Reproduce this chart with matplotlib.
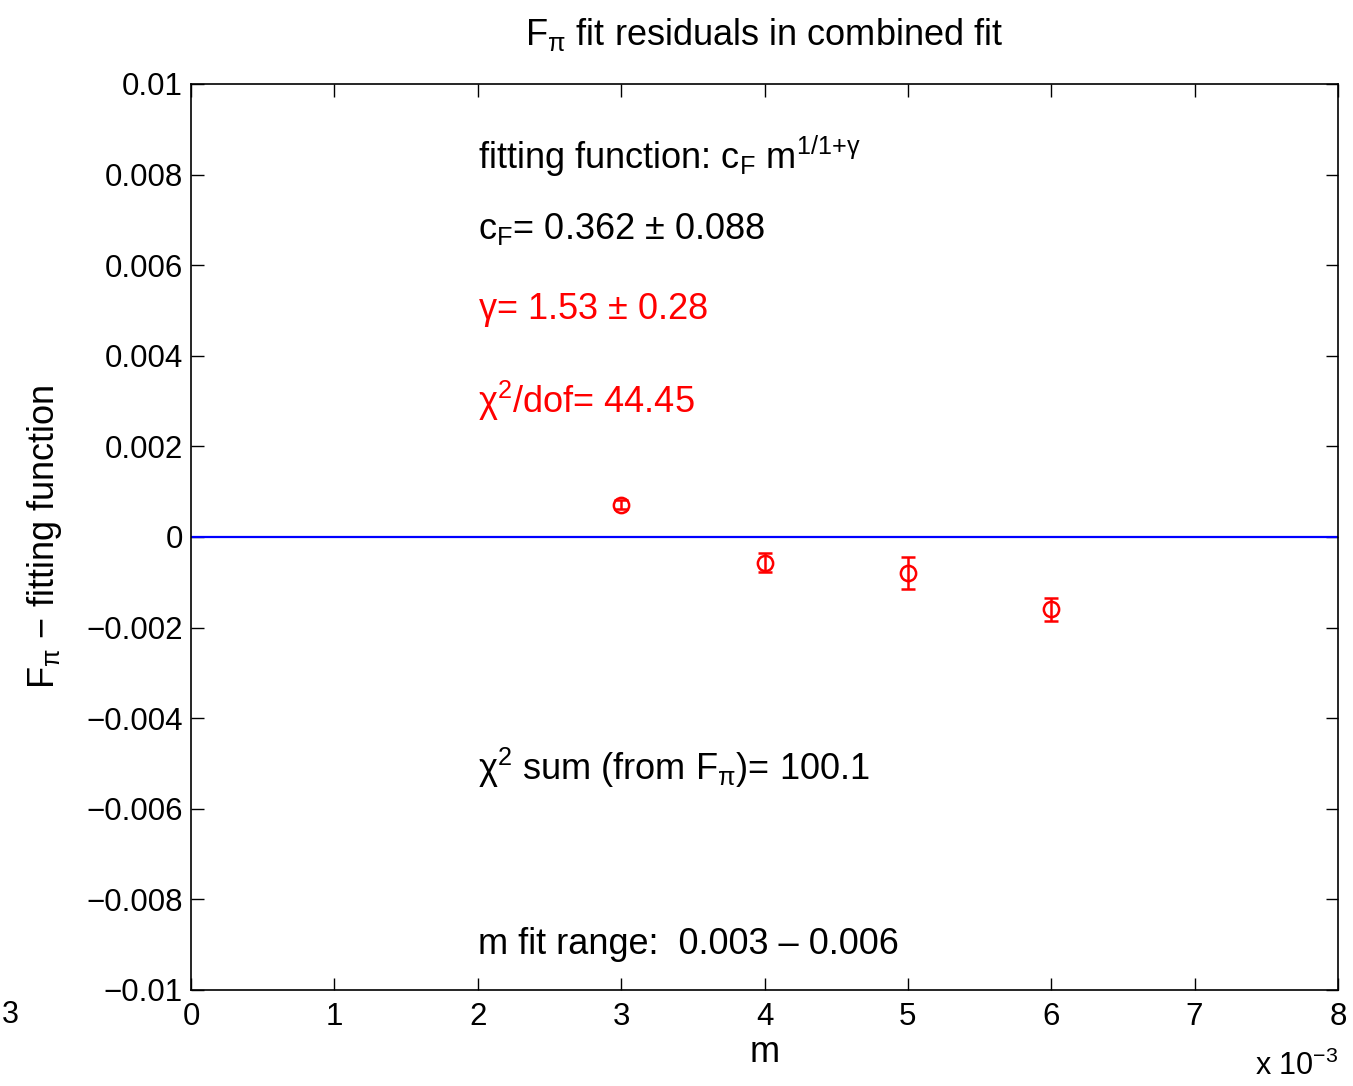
import matplotlib
matplotlib.use("Agg")
import matplotlib.pyplot as plt

# Residuen van de F_pi fit (data - fitfunctie)
m_waarden = [0.003, 0.004, 0.005, 0.006]
residu = [0.00071, -0.00057, -0.00080, -0.00160]
residu_fout = [0.00010, 0.00021, 0.00035, 0.00025]

x_ticks = [0, 0.001, 0.002, 0.003, 0.004, 0.005, 0.006, 0.007, 0.008]
x_ticklabels = ['0', '1', '2', '3', '4', '5', '6', '7', '8']
y_ticks = [-0.01, -0.008, -0.006, -0.004, -0.002, 0, 0.002, 0.004, 0.006, 0.008, 0.01]
y_ticklabels = ['\u22120.01', '\u22120.008', '\u22120.006', '\u22120.004', '\u22120.002', '0',
                '0.002', '0.004', '0.006', '0.008', '0.01']

plt.rcParams['font.family'] = ['Liberation Sans', 'DejaVu Sans']
plt.rcParams['mathtext.fontset'] = 'custom'
plt.rcParams['mathtext.rm'] = 'Liberation Sans'
plt.rcParams['mathtext.it'] = 'Liberation Sans'
plt.rcParams['mathtext.default'] = 'rm'

fig = plt.figure(figsize=(13.53, 10.86), dpi=100)
ax = fig.add_axes([0.1412, 0.0884, 0.8477, 0.8343])

ax.axhline(0, color='blue', linewidth=1.6)
ax.errorbar(m_waarden, residu, yerr=residu_fout, fmt='o', color='red',
            markerfacecolor='none', markersize=11, markeredgewidth=1.8,
            elinewidth=1.8, capsize=5, capthick=1.8)

ax.set_xlim(0, 0.008)
ax.set_ylim(-0.01, 0.01)
ax.set_xticks(x_ticks)
ax.set_xticklabels(x_ticklabels)
ax.set_yticks(y_ticks)
ax.set_yticklabels(y_ticklabels)
ax.tick_params(direction='in', length=9, width=1, top=True, right=True,
               labelsize=22.5, pad=6)
ax.tick_params(axis='x', pad=9)
for s in ax.spines.values():
    s.set_linewidth(1.2)

ax.set_title(r'$\mathrm{F_{\pi}}$ fit residuals in combined fit', fontsize=26, pad=28)
ax.set_xlabel('m', fontsize=26, labelpad=2)
ax.set_ylabel(r'$\mathrm{F_{\pi}}$ $-$ fitting function', fontsize=26, labelpad=16)

fs = 26
ax.text(0.002, 0.0084, r'fitting function: $\mathrm{c_F}$ $\mathrm{m^{1/1{+}\gamma}}$',
        fontsize=fs, va='center')
ax.text(0.002, 0.0068, r'$\mathrm{c_F}$= 0.362 $\pm$ 0.088', fontsize=fs, va='center')
ax.text(0.002, 0.0050, r'$\gamma$= 1.53 $\pm$ 0.28', fontsize=fs, va='center', color='red')
ax.text(0.002, 0.0030, r'$\chi^2$/dof= 44.45', fontsize=fs, va='center', color='red')
ax.text(0.002, -0.0051, r'$\chi^2$ sum (from $\mathrm{F_{\pi}}$)= 100.1', fontsize=fs, va='center')
ax.text(0.002, -0.0090, 'm fit range:  0.003 \u2013 0.006', fontsize=fs, va='center')

# schaalfactor rechtsonder, zoals in MATLAB
fig.text(0.9889, 0.004, r'x $\mathrm{10^{-3}}$', fontsize=22, ha='right', va='bottom')
# restje tekst aan de linkerrand (in het origineel half afgesneden)
fig.text(0.001, 0.065, '3', fontsize=22, ha='left', va='center')

fig.savefig('out.png', dpi=100)
